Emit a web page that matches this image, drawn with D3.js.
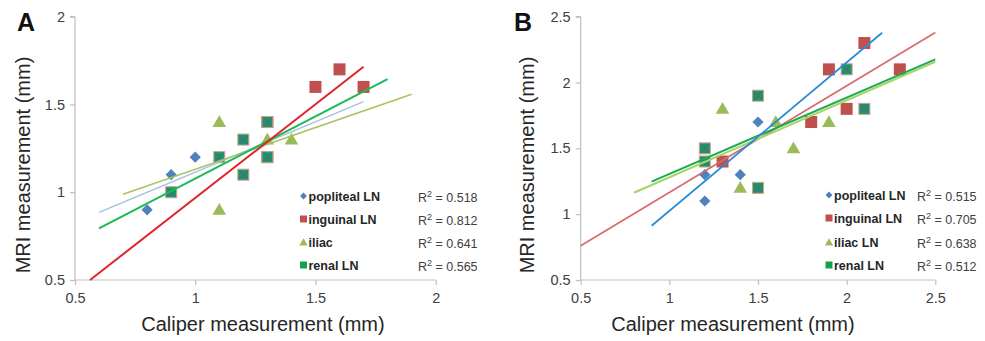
<!DOCTYPE html>
<html>
<head>
<meta charset="utf-8">
<script src="https://cdn.jsdelivr.net/npm/d3@7"></script>
<style>
  body { margin: 0; background: #fff; }
  text { font-family: 'Liberation Sans', Arial, sans-serif; }
</style>
</head>
<body>
<div id="chart"></div>
<script>
// ---- data ----
const namesA = ['popliteal LN', 'inguinal LN', 'iliac', 'renal LN']
const namesB = ['popliteal LN', 'inguinal LN', 'iliac LN', 'renal LN']
const r2A = ['0.518', '0.812', '0.641', '0.565']
const r2B = ['0.515', '0.705', '0.638', '0.512']
const ticksA = [0.5, 1, 1.5, 2]
const ticksB = [0.5, 1, 1.5, 2, 2.5]

// [caliper, mri]
const poplitealA = [[0.8, 0.9], [0.9, 1.1], [1.0, 1.2]]
const inguinalA = [[1.5, 1.6], [1.6, 1.7], [1.7, 1.6], [1.3, 1.4], [1.3, 1.2]]
const iliacA = [[1.1, 1.4], [1.1, 0.9], [1.3, 1.3], [1.4, 1.3]]
const renalA = [[0.9, 1.0], [1.1, 1.2], [1.2, 1.3], [1.2, 1.1], [1.3, 1.4], [1.3, 1.2]]

const poplitealB = [[1.2, 1.3], [1.2, 1.1], [1.4, 1.3], [1.5, 1.7]]
const inguinalB = [[1.3, 1.4], [1.8, 1.7], [1.9, 2.1], [2.0, 1.8], [2.1, 2.3], [2.3, 2.1]]
const iliacB = [[1.3, 1.8], [1.4, 1.2], [1.6, 1.7], [1.7, 1.5], [1.9, 1.7]]
const renalB = [[1.2, 1.5], [1.2, 1.4], [1.5, 1.9], [1.5, 1.2], [2.0, 2.1], [2.1, 1.8]]

// trendline end points [x0, y0, x1, y1] per series
const trendA = [[0.6, 0.885, 1.7, 1.516], [0.5625, 0.5, 1.7, 1.715], [0.7, 0.988, 1.9, 1.558], [0.6, 0.794, 1.8, 1.645]]
const trendB = [[0.9, 0.912, 2.2, 2.378], [0.5, 0.76, 2.5, 2.38], [0.8, 1.163, 2.5, 2.158], [0.9, 1.247, 2.5, 2.176]]

const width = 985
const height = 341

const svg = d3.select('#chart')
  .append('svg')
  .attr('width', width)
  .attr('height', height)

const markerColors = ['#4f81bd', '#c0504d', '#9bbb59', '#12a150']

function drawMarker(g, type, cx, cy) {
  if (type === 0) {
    g.append('path')
      .attr('d', d3.symbol(d3.symbolDiamond2, 80)())
      .attr('transform', `translate(${cx},${cy})`)
      .attr('fill', markerColors[0])
  } else if (type === 1) {
    g.append('rect')
      .attr('x', cx - 6).attr('y', cy - 6)
      .attr('width', 12).attr('height', 12)
      .attr('fill', markerColors[1])
  } else if (type === 2) {
    g.append('path')
      .attr('d', d3.symbol(d3.symbolTriangle, 80)())
      .attr('transform', `translate(${cx},${cy + 1})`)
      .attr('fill', markerColors[2])
  } else {
    g.append('rect')
      .attr('x', cx - 5.5).attr('y', cy - 5.5)
      .attr('width', 11).attr('height', 11)
      .attr('fill', markerColors[3])
      .attr('stroke', '#d99a9a')
      .attr('stroke-width', 1)
    g.append('path')
      .attr('d', `M${cx - 4},${cy - 4}L${cx + 4},${cy + 4}M${cx + 4},${cy - 4}L${cx - 4},${cy + 4}`)
      .attr('stroke', '#5a5cb0')
      .attr('stroke-width', 1.2)
  }
}

function drawPanel(cfg) {
  const x = d3.scaleLinear().domain(cfg.domainX).range(cfg.rangeX)
  const y = d3.scaleLinear().domain(cfg.domainY).range([280, 16.7])
  const g = svg.append('g')

  // axes
  const xAxis = g.append('g')
    .attr('transform', `translate(0,${y(cfg.domainY[0])})`)
    .call(d3.axisBottom(x).tickValues(cfg.ticksX).tickSize(5).tickPadding(8).tickFormat(d3.format('')))
  const yAxis = g.append('g')
    .attr('transform', `translate(${x(cfg.domainX[0])},0)`)
    .call(d3.axisLeft(y).tickValues(cfg.ticksY).tickSize(5).tickPadding(5).tickFormat(d3.format('')))
  ;[xAxis, yAxis].forEach(a => {
    a.select('.domain').attr('stroke', '#bfbfbf').attr('stroke-width', 1.2)
    a.selectAll('.tick line').attr('stroke', '#bfbfbf').attr('stroke-width', 1.2)
    a.selectAll('.tick text')
      .attr('fill', '#404040')
      .attr('font-size', 14.5)
      .attr('font-family', "'Liberation Sans', Arial, sans-serif")
  })
  yAxis.select('.domain').attr('d', `M0,${y(cfg.domainY[0])}V${y(cfg.domainY[1])}M-5,${y(cfg.domainY[1])}H0`)
  xAxis.select('.domain').attr('d', `M${x(cfg.domainX[0])},0H${x(cfg.domainX[1])}`)

  // markers
  const series = cfg.series
  series.forEach((pts, i) => {
    pts.forEach(p => drawMarker(g, i, x(p[0]), y(p[1])))
  })

  // trendlines
  cfg.lineOrder.forEach(i => {
    const t = cfg.trend[i]
    g.append('line')
      .attr('x1', x(t[0])).attr('y1', y(t[1]))
      .attr('x2', x(t[2])).attr('y2', y(t[3]))
      .attr('stroke', cfg.lineColors[i])
      .attr('stroke-width', cfg.lineWidths[i])
  })

  // legend
  cfg.names.forEach((n, i) => {
    const ly = cfg.legendY[i]
    const lg = g.append('g')
    if (i === 0) {
      lg.append('path')
        .attr('d', d3.symbol(d3.symbolDiamond2, 30)())
        .attr('transform', `translate(${cfg.legendX},${ly})`)
        .attr('fill', markerColors[0])
    } else if (i === 2) {
      lg.append('path')
        .attr('d', d3.symbol(d3.symbolTriangle, 30)())
        .attr('transform', `translate(${cfg.legendX},${ly + 1})`)
        .attr('fill', markerColors[2])
    } else {
      lg.append('rect')
        .attr('x', cfg.legendX - 3.5).attr('y', ly - 3.5)
        .attr('width', 7).attr('height', 7)
        .attr('fill', markerColors[i])
    }
    lg.append('text')
      .attr('x', cfg.legendX + 5)
      .attr('y', ly + 4.5)
      .attr('font-size', 12.5)
      .attr('font-weight', 'bold')
      .attr('fill', '#262626')
      .text(n)
    const rt = lg.append('text')
      .attr('x', cfg.r2X)
      .attr('y', ly + 6)
      .attr('font-size', 12.5)
      .attr('fill', '#404040')
    rt.append('tspan').text('R')
    rt.append('tspan').attr('font-size', 9).attr('dy', -5).text('2')
    rt.append('tspan').attr('dy', 5).text(' = ' + cfg.r2[i])
  })

  // axis titles
  g.append('text')
    .attr('x', cfg.titleX)
    .attr('y', 331)
    .attr('text-anchor', 'middle')
    .attr('font-size', 20)
    .attr('fill', '#262626')
    .text('Caliper measurement (mm)')
  g.append('text')
    .attr('transform', `translate(${cfg.yTitleX},165) rotate(-90)`)
    .attr('text-anchor', 'middle')
    .attr('font-size', 20)
    .attr('fill', '#262626')
    .text('MRI measurement (mm)')

  // panel letter
  g.append('text')
    .attr('x', cfg.letterX)
    .attr('y', 31)
    .attr('font-size', 25)
    .attr('font-weight', 'bold')
    .attr('fill', '#111')
    .text(cfg.letter)
}

drawPanel({
  letter: 'A', letterX: 17,
  domainX: [0.5, 2], rangeX: [75, 435.7],
  domainY: [0.5, 2],
  ticksX: ticksA, ticksY: ticksA,
  series: [poplitealA, inguinalA, iliacA, renalA],
  trend: trendA,
  lineOrder: [0, 2, 3, 1],
  lineColors: ['#a4bfe2', '#e0242a', '#a8c460', '#1db954'],
  lineWidths: [1.3, 2, 1.6, 2],
  names: namesA, r2: r2A,
  legendX: 303.5, legendY: [196, 219, 242, 265], r2X: 418,
  titleX: 263, yTitleX: 30
})

drawPanel({
  letter: 'B', letterX: 514,
  domainX: [0.5, 2.5], rangeX: [580.7, 935.3],
  domainY: [0.5, 2.5],
  ticksX: ticksB, ticksY: ticksB,
  series: [poplitealB, inguinalB, iliacB, renalB],
  trend: trendB,
  lineOrder: [1, 2, 3, 0],
  lineColors: ['#2b8ad8', '#d66a6a', '#a9d46c', '#1aac52'],
  lineWidths: [1.8, 1.6, 2, 2],
  names: namesB, r2: r2B,
  legendX: 829, legendY: [195, 218, 242, 265], r2X: 917,
  titleX: 733, yTitleX: 534
})
</script>
</body>
</html>
